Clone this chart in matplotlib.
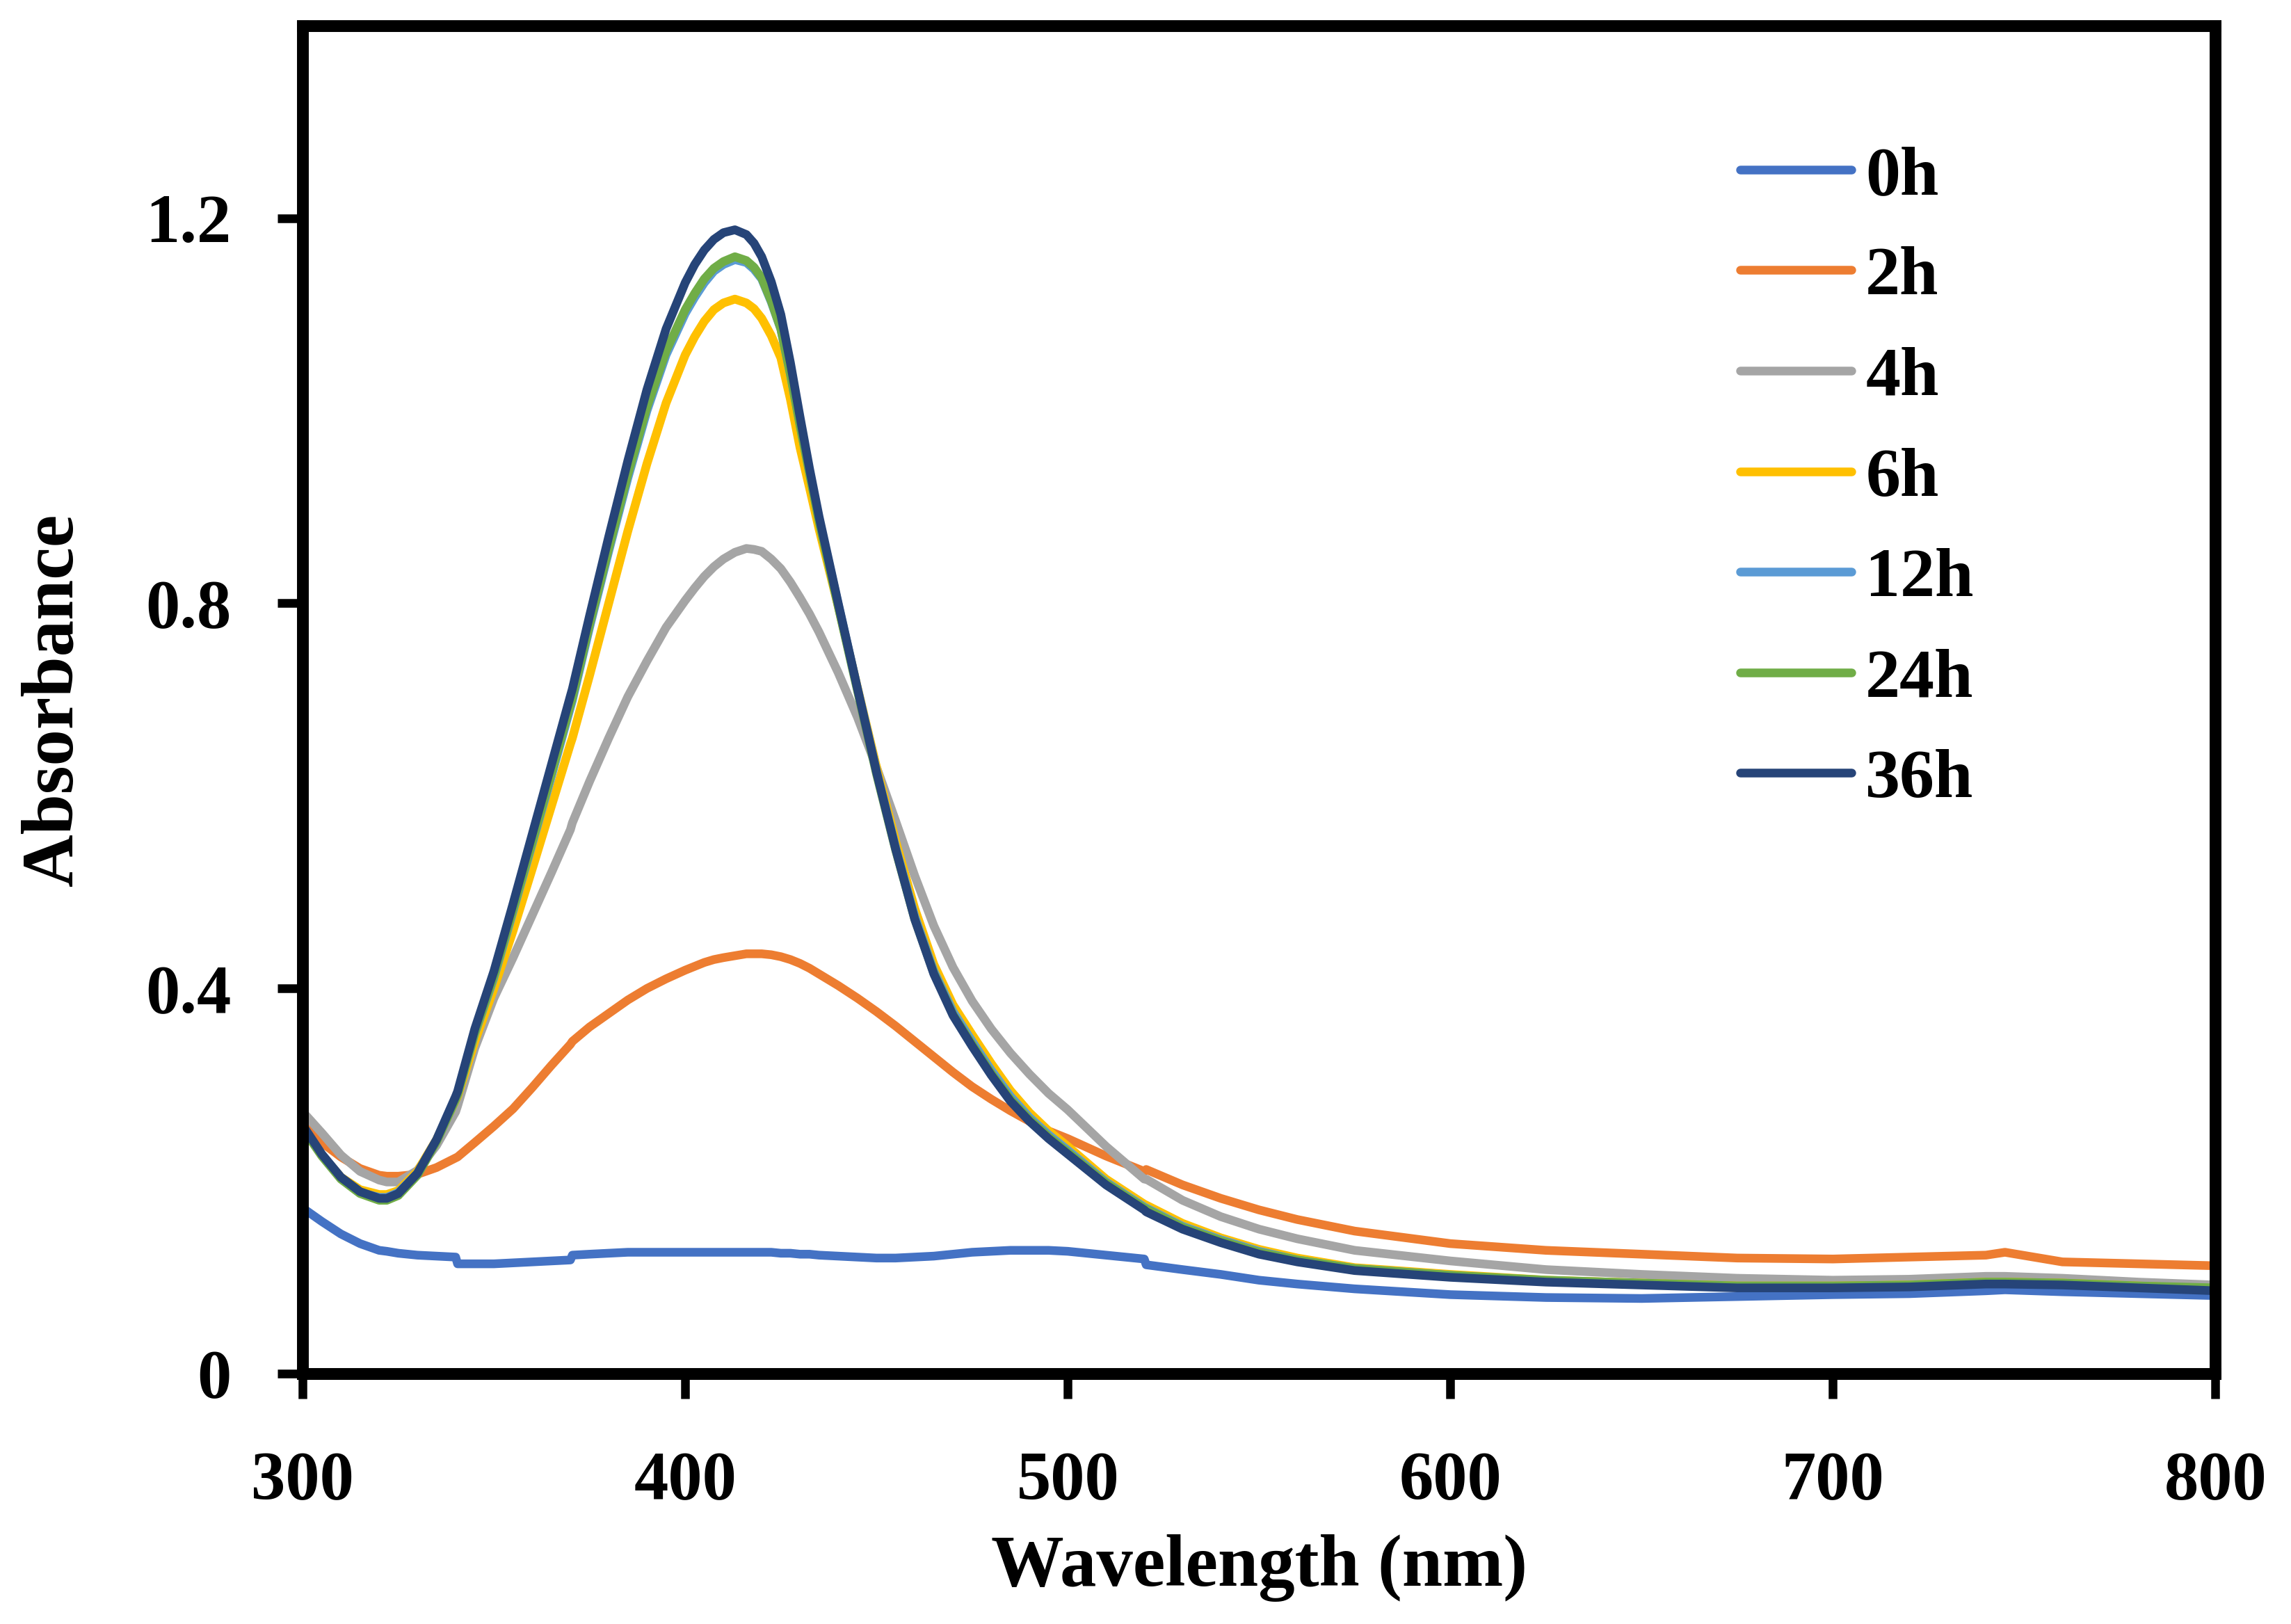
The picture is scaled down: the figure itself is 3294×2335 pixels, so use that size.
import numpy as np
import matplotlib
matplotlib.use("Agg")
import matplotlib.pyplot as plt

# UV-Vis absorbance spectra at different reaction times
wavelength = [300, 305, 310, 315, 320, 322, 325, 330, 335, 340,
              340.5, 345, 350, 355, 360, 365, 370, 370.5, 375, 380,
              385, 390, 395, 400, 402.5, 405, 407.5, 410, 413, 416,
              418, 420, 422.5, 425, 427.5, 430, 432.5, 435, 440, 445,
              450, 455, 460, 465, 470, 475, 480, 485, 490, 495,
              500, 510, 520, 520.5, 530, 540, 550, 560, 575, 600,
              625, 650, 675, 700, 720, 740, 745, 760, 780, 800]

abs_0h = [.172, .158, .145, .135, .128, .127, .125, .123, .122, .121,
          .114, .114, .114, .115, .116, .117, .118, .123, .124, .125,
          .126, .126, .126, .126, .126, .126, .126, .126, .126, .126,
          .126, .126, .126, .125, .125, .124, .124, .123, .122, .121,
          .120, .120, .121, .122, .124, .126, .127, .128, .128, .128,
          .127, .123, .119, .113, .108, .103, .097, .093, .088, .082,
          .079, .078, .080, .082, .083, .086, .087, .085, .083, .081]

abs_2h = [.260, .240, .225, .213, .206, .205, .205, .207, .214, .224,
          .225, .240, .257, .275, .297, .320, .342, .345, .360, .374,
          .388, .400, .410, .419, .423, .427, .430, .432, .434, .436,
          .436, .436, .435, .433, .430, .426, .421, .415, .403, .390,
          .376, .361, .345, .329, .313, .298, .285, .273, .262, .252,
          .244, .226, .210, .212, .196, .182, .170, .160, .148, .135,
          .128, .124, .120, .119, .121, .123, .126, .116, .114, .112]

abs_4h = [.272, .250, .227, .210, .201, .199, .199, .211, .237, .272,
          .278, .338, .390, .432, .476, .520, .565, .572, .615, .660,
          .703, .740, .775, .803, .816, .828, .838, .846, .853, .857,
          .856, .854, .846, .836, .822, .806, .789, .770, .728, .682,
          .630, .574, .517, .465, .422, .387, .358, .333, .311, .291,
          .274, .236, .202, .202, .180, .163, .150, .140, .128, .117,
          .108, .103, .099, .097, .098, .101, .101, .099, .095, .092]

abs_6h = [.255, .227, .204, .191, .186, .186, .190, .210, .243, .284,
          .288, .345, .400, .460, .524, .589, .654, .660, .725, .800,
          .875, .945, 1.008, 1.058, 1.077, 1.093, 1.105, 1.112, 1.116, 1.112,
          1.106, 1.096, 1.078, 1.055, 1.012, .962, .920, .877, .797, .713,
          .630, .553, .483, .425, .383, .352, .322, .294, .271, .252,
          .236, .202, .176, .175, .156, .141, .129, .120, .110, .103,
          .097, .094, .091, .091, .092, .095, .095, .094, .091, .088]

abs_12h = [.256, .227, .203, .188, .183, .183, .188, .208, .242, .285,
           .290, .353, .411, .480, .550, .620, .692, .699, .775, .854,
           .930, 1.000, 1.058, 1.101, 1.118, 1.133, 1.145, 1.152, 1.157, 1.154,
           1.147, 1.137, 1.113, 1.085, 1.038, .986, .936, .887, .799, .712,
           .626, .547, .475, .418, .376, .345, .315, .288, .266, .248,
           .232, .199, .173, .172, .153, .139, .127, .118, .109, .102,
           .096, .093, .090, .090, .091, .094, .094, .093, .090, .087]

abs_24h = [.255, .226, .202, .187, .180, .180, .185, .206, .241, .285,
           .290, .354, .413, .482, .552, .623, .695, .702, .778, .857,
           .934, 1.004, 1.062, 1.105, 1.122, 1.137, 1.148, 1.155, 1.160, 1.156,
           1.149, 1.138, 1.114, 1.085, 1.038, .985, .935, .885, .797, .710,
           .623, .544, .472, .416, .373, .342, .312, .285, .264, .246,
           .230, .198, .172, .171, .152, .138, .126, .118, .109, .102,
           .097, .094, .091, .091, .092, .095, .095, .094, .091, .089]

abs_36h = [.258, .228, .204, .189, .182, .182, .187, .208, .243, .288,
           .293, .358, .418, .488, .560, .632, .704, .711, .787, .869,
           .948, 1.022, 1.085, 1.133, 1.152, 1.167, 1.178, 1.185, 1.188, 1.183,
           1.174, 1.160, 1.134, 1.100, 1.050, .994, .940, .890, .800, .712,
           .625, .545, .472, .415, .372, .340, .310, .283, .262, .244,
           .228, .196, .170, .168, .150, .136, .124, .116, .107, .100,
           .095, .092, .089, .089, .090, .093, .093, .092, .089, .086]

labels = ['0h', '2h', '4h', '6h', '12h', '24h', '36h']
series = [abs_0h, abs_2h, abs_4h, abs_6h, abs_12h, abs_24h, abs_36h]
colors = ['#4472C4', '#ED7D31', '#A5A5A5', '#FFC000', '#5B9BD5', '#70AD47', '#264478']

x_ticks = [300, 400, 500, 600, 700, 800]
y_ticks = [0, 0.4, 0.8, 1.2]

plt.rcParams['font.family'] = ['Liberation Serif', 'DejaVu Serif']
plt.rcParams['font.weight'] = 'bold'

fig = plt.figure(figsize=(16.47, 11.675), dpi=200)
ax = fig.add_axes([0.1321, 0.1542, 0.8349, 0.8300])

for vals, lab, col in zip(series, labels, colors):
    ax.plot(wavelength, vals, color=col, lw=4.5, label=lab,
            solid_capstyle='round', solid_joinstyle='round')

ax.set_xlim(300, 800)
ax.set_ylim(0, 1.4)
ax.set_xticks(x_ticks)
ax.set_xticklabels([str(t) for t in x_ticks])
ax.set_yticks(y_ticks)
ax.set_yticklabels(['0', '0.4', '0.8', '1.2'])

for sp in ax.spines.values():
    sp.set_linewidth(6.1)
    sp.set_color('black')

ax.tick_params(axis='both', direction='out', length=13, width=4.5,
               labelsize=35.5, color='black')
ax.tick_params(axis='x', pad=27)
ax.tick_params(axis='y', pad=24)
for lbl in ax.get_xticklabels() + ax.get_yticklabels():
    lbl.set_fontweight('bold')

ax.set_xlabel('Wavelength (nm)', fontsize=37.7, fontweight='bold')
ax.set_ylabel('Absorbance', fontsize=37.7, fontweight='bold')
ax.xaxis.label.set_va('center')
ax.yaxis.label.set_va('center')
ax.xaxis.set_label_coords(0.5, -0.1445)
ax.yaxis.set_label_coords(-0.1298, 0.5)

leg = ax.legend(loc='center left', bbox_to_anchor=(0.7516, 0.664),
                frameon=False, fontsize=36, handlelength=1.6,
                handletextpad=0.2, labelspacing=0.536, borderpad=0,
                borderaxespad=0)
for t in leg.get_texts():
    t.set_fontweight('bold')

fig.savefig('out.png', dpi=200, facecolor='white')
